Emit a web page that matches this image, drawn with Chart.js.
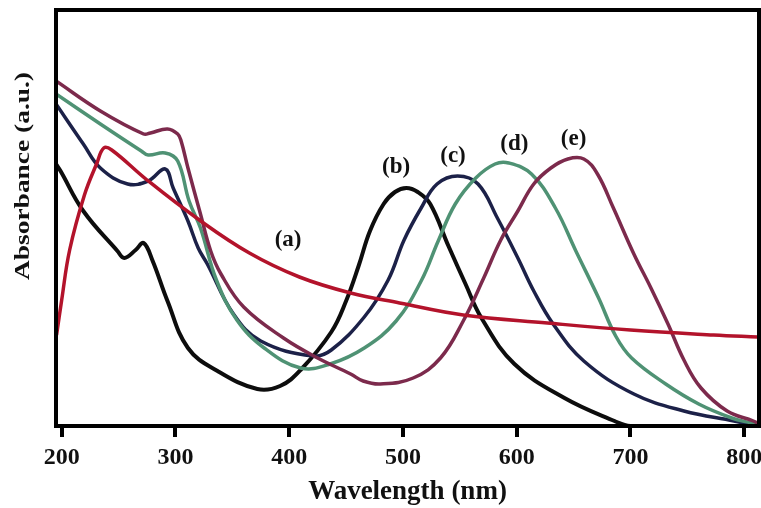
<!DOCTYPE html>
<html lang="en">
<head>
  <meta charset="UTF-8" />
  <title>Absorbance spectra</title>
  <script src="https://cdn.jsdelivr.net/npm/chart.js"></script>
  <style>
    html, body { margin: 0; padding: 0; background: #fff; }
    #wrap { width: 761px; height: 508px; }
  </style>
</head>
<body>
  <div id="wrap"><canvas id="grafico" width="761" height="508"></canvas></div>

  <script>
    // x ticks of the wavelength axis
    const xTicks = [200, 300, 400, 500, 600, 700, 800];

    // (a) red
    const waveA = [195.5, 200, 207, 220, 231, 237, 244, 275, 321, 365, 409, 454, 497, 553, 627, 700, 773, 812];
    const absA  = [91, 126, 176, 231, 263, 278, 276, 246, 206, 173, 149, 133, 123, 111, 103, 96, 91, 89];

    // (b) black
    const waveB = [195, 199, 219, 249, 255, 265, 272, 280, 293, 311, 337, 372, 392, 410, 437, 450, 461, 471, 483, 493, 503, 513, 524, 540, 555, 569, 598, 642, 686, 700, 813];
    const absB  = [262, 255, 215, 175, 168, 176, 183, 165, 125, 78, 55, 37, 40, 56, 94, 125, 160, 195, 222, 234, 238, 234, 222, 180, 142, 108, 62, 28, 5, 0, 0];

    // (c) navy
    const waveC = [195, 219, 234, 258, 276, 291, 298, 311, 320, 328, 351, 375, 421, 437, 466, 487, 501, 516, 530, 548, 566, 583, 601, 615, 632, 659, 703, 747, 791, 808, 813];
    const absC  = [322, 282, 258, 242, 245, 257, 238, 205, 178, 162, 112, 85, 70, 76, 109, 146, 186, 218, 242, 250, 242, 208, 168, 135, 102, 65, 32, 15, 5, 1, 0];

    // (d) green
    const waveD = [195, 234, 270, 276, 291, 302, 312, 322, 336, 354, 378, 410, 436, 466, 494, 516, 531, 546, 564, 581, 593, 613, 634, 652, 672, 687, 701, 731, 760, 789, 806, 813];
    const absD  = [332, 302, 275, 271, 273, 265, 225, 198, 146, 106, 78, 58, 62, 78, 105, 145, 185, 222, 248, 262, 263, 252, 218, 175, 128, 90, 68, 42, 22, 8, 3, 1];

    // (e) maroon
    const waveE = [195, 234, 272, 278, 293, 302, 305, 311, 322, 331, 340, 360, 395, 425, 454, 465, 480, 509, 533, 553, 571, 586, 601, 615, 630, 645, 659, 671, 685, 703, 718, 733, 747, 762, 785, 808, 813];
    const absE  = [345, 315, 292, 293, 297, 292, 285, 258, 212, 175, 152, 119, 88, 68, 52, 45, 42, 48, 68, 105, 148, 186, 215, 242, 258, 267, 267, 252, 218, 172, 138, 102, 66, 38, 15, 5, 2];

    // curve labels and where they sit (wavelength, absorbance)
    const curveLabels = ['(a)', '(b)', '(c)', '(d)', '(e)'];
    const labelWave   = [399, 494, 544, 598, 650];
    const labelAbs    = [186, 259, 270, 282, 287];

    const serif = '"Liberation Serif", "DejaVu Serif", serif';

    const pts = (xs, ys) => xs.map((x, i) => ({ x, y: ys[i] }));

    const serie = (data, color, width) => ({
      data,
      borderColor: color,
      borderWidth: width,
      pointRadius: 0,
      fill: false,
      tension: 0.4
    });

    // frame, y title and curve labels
    const extras = {
      id: 'extras',
      afterDatasetsDraw(chart) {
        const { ctx, chartArea: a, scales } = chart;
        ctx.save();
        ctx.strokeStyle = '#000';
        ctx.lineWidth = 4;
        ctx.strokeRect(a.left, a.top, a.right - a.left, a.bottom - a.top);

        ctx.fillStyle = '#111';
        ctx.font = 'bold 23px ' + serif;
        ctx.textAlign = 'center';
        ctx.textBaseline = 'middle';
        curveLabels.forEach((t, i) => {
          ctx.fillText(t, scales.x.getPixelForValue(labelWave[i]), scales.y.getPixelForValue(labelAbs[i]));
        });

        // y title, drawn by hand so it can sit above the middle
        ctx.font = 'bold 21px ' + serif;
        const w = ctx.measureText('Absorbance (a.u.)').width;
        ctx.translate(24, 176);
        ctx.rotate(-Math.PI / 2);
        ctx.scale(208 / w, 1);
        ctx.fillText('Absorbance (a.u.)', 0, 0);
        ctx.restore();
      }
    };

    new Chart(document.getElementById('grafico'), {
      type: 'line',
      data: {
        datasets: [
          serie(pts(waveA, absA), '#b3132b', 3.5),
          serie(pts(waveE, absE), '#7c2a4c', 3.5),
          serie(pts(waveD, absD), '#4f9274', 3.5),
          serie(pts(waveC, absC), '#1c2148', 3.5),
          serie(pts(waveB, absB), '#0d0d0d', 4)
        ]
      },
      options: {
        responsive: false,
        animation: false,
        events: [],
        layout: { padding: { top: 10, right: 2, left: 0, bottom: 0 } },
        plugins: { legend: { display: false }, tooltip: { enabled: false } },
        scales: {
          x: {
            type: 'linear',
            min: 195,
            max: 813,
            afterBuildTicks: s => { s.ticks = xTicks.map(v => ({ value: v })); },
            afterFit: s => { s.height = 82; s.paddingLeft = 0; s.paddingRight = 0; },
            border: { display: false },
            grid: { drawOnChartArea: false, drawTicks: true, tickLength: 11, lineWidth: 4, color: '#000' },
            ticks: { color: '#111', padding: 6, maxRotation: 0, font: { family: serif, size: 24, weight: 'bold' } },
            title: {
              display: true,
              text: 'Wavelength (nm)',
              color: '#111',
              padding: { top: 0, bottom: 0 },
              font: { family: serif, size: 27, weight: 'bold' }
            }
          },
          y: {
            min: 0,
            max: 416,
            afterFit: s => { s.width = 56; s.paddingTop = 0; s.paddingBottom = 0; },
            border: { display: false },
            grid: { display: false },
            ticks: { display: false }
          }
        }
      },
      plugins: [extras]
    });
  </script>
</body>
</html>
